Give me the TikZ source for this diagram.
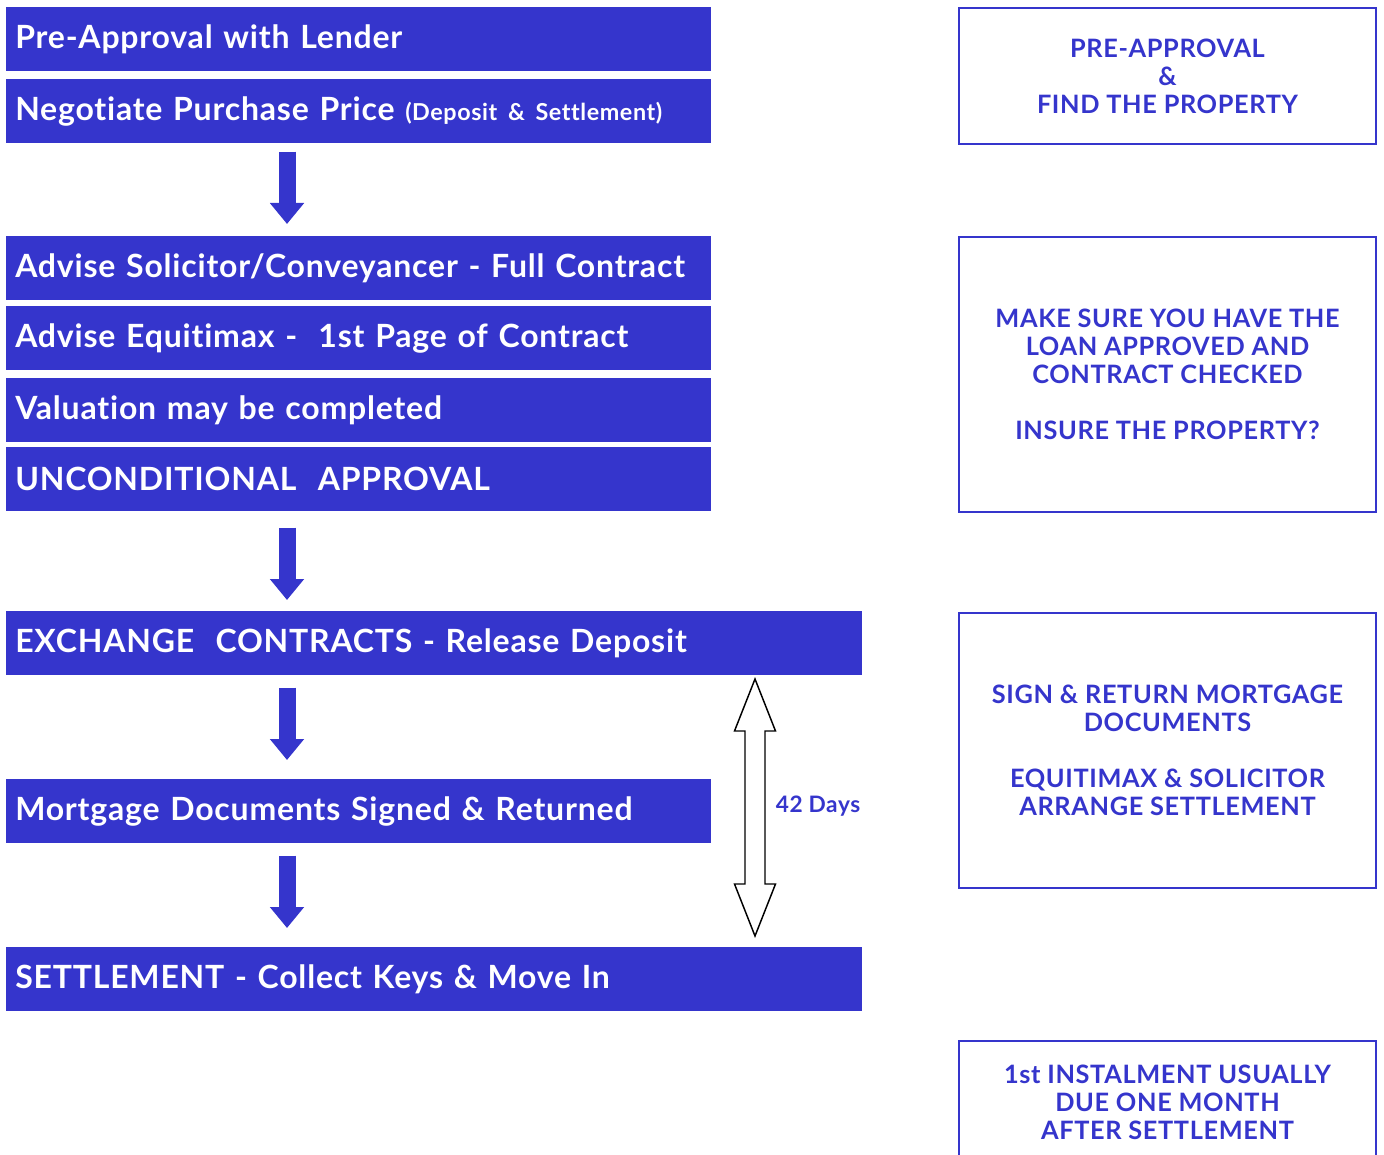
\documentclass[tikz,border=0pt]{standalone}
\usepackage{fontspec}
\setmainfont{Lato}[LetterSpace=2.5, Ligatures=NoCommon]
\usetikzlibrary{arrows.meta}
\definecolor{barblue}{RGB}{53,53,204}

\begin{document}
\begin{tikzpicture}
    [
    x=0.75pt, y=-0.75pt,
    stepbar/.style={fill=barblue, text=white, anchor=north west, inner xsep=6.75pt, inner ysep=0pt,
      minimum height=48pt, text width=515.25pt, align=left, font=\bfseries\fontsize{24}{28}\selectfont},
    widebar/.style={stepbar, text width=628.5pt},
    notebox/.style={draw=barblue, line width=1.5pt, fill=white, text=barblue, anchor=north west,
      minimum width=312.75pt, align=center, font=\bfseries\fontsize{19}{21}\selectfont},
    downarr/.style={draw=barblue, line width=12.75pt, -{Triangle[width=24.75pt,length=15.75pt]}},
    spanarrow/.style={draw=black, line width=1.1pt, fill=white, line join=miter},
    small/.style={font=\bfseries\fontsize{17}{20}\selectfont}
    ]
    \useasboundingbox (0,0) rectangle (1384,1155);

    \node (preappr) at (6,7) [stepbar] {Pre-Approval with Lender};
    \node (negot) at (6,79) [stepbar] {Negotiate Purchase Price {\fontsize{17.5}{20}\selectfont(Deposit \& Settlement)}};
    \node (solic) at (6,236) [stepbar] {Advise Solicitor/Conveyancer - Full Contract};
    \node (equit) at (6,306) [stepbar] {Advise Equitimax -~ 1st Page of Contract};
    \node (valu) at (6,378) [stepbar] {Valuation may be completed};
    \node (uncond) at (6,447) [stepbar] {UNCONDITIONAL~~APPROVAL};
    \node (exch) at (6,611) [widebar] {EXCHANGE~~CONTRACTS - Release Deposit};
    \node (mortg) at (6,779) [stepbar] {Mortgage Documents Signed \& Returned};
    \node (settle) at (6,947) [widebar] {SETTLEMENT - Collect Keys \& Move In};

    \draw [downarr, shorten <=6pt, shorten >=9pt] ([xshift=210.75pt]negot.south west) to ([xshift=210.75pt]solic.north west);
    \draw [downarr, shorten <=12pt, shorten >=8.25pt] ([xshift=210.75pt]uncond.south west) to ([xshift=210.75pt]exch.north west);
    \draw [downarr, shorten <=9pt, shorten >=14.25pt] ([xshift=210.75pt]exch.south west) to ([xshift=210.75pt]mortg.north west);
    \draw [downarr, shorten <=9pt, shorten >=14.25pt] ([xshift=210.75pt]mortg.south west) to ([xshift=210.75pt]settle.north west);

    \coordinate (span) at (755,807.5);
    \draw [spanarrow, shift={(span)}] (0,-128.5) -- (20.5,-76.5) -- (10,-76.5) -- (10,76.5) -- (20.5,76.5) -- (0,128.5)
      -- (-20.5,76.5) -- (-10,76.5) -- (-10,-76.5) -- (-20.5,-76.5) -- cycle;
    \node (days) at (818,806) [small, text=barblue] {42 Days};

    \node (note1) at (958,7) [notebox, minimum height=102pt] {PRE-APPROVAL\\ \&\\ FIND THE PROPERTY};
    \node (note2) at (958,236) [notebox, minimum height=206.25pt] {MAKE SURE YOU HAVE THE\\ LOAN APPROVED AND\\ CONTRACT CHECKED\\[21pt] INSURE THE PROPERTY?};
    \node (note3) at (958,612) [notebox, minimum height=206.25pt] {SIGN \& RETURN MORTGAGE\\ DOCUMENTS\\[21pt] EQUITIMAX \& SOLICITOR\\ ARRANGE SETTLEMENT};
    \node (note4) at (958,1040) [notebox, minimum height=91.5pt] {1st INSTALMENT USUALLY\\ DUE ONE MONTH\\ AFTER SETTLEMENT};
  \end{tikzpicture}
\end{document}
